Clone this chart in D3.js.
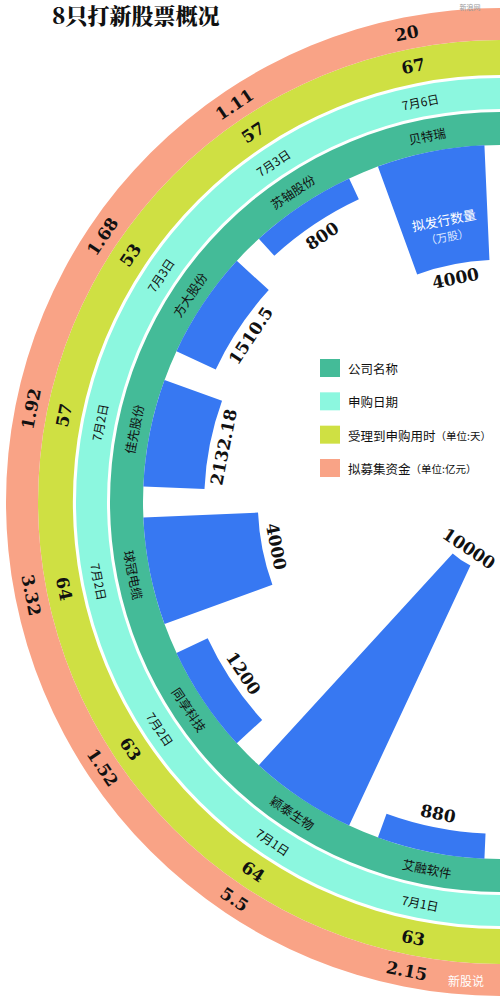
<!DOCTYPE html>
<html><head><meta charset="utf-8">
<script src="https://cdn.jsdelivr.net/npm/d3@7"></script>
<style>body{margin:0;background:#fff}</style></head>
<body><svg id="c" width="500" height="1004"></svg>
<script>
const companies=["贝特瑞","苏轴股份","方大股份","佳先股份","球冠电缆","同享科技","颖泰生物","艾融软件"];
const shares=[4000,800,1510.5,2132.18,4000,1200,10000,880];
const shareLabels=["4000","800","1510.5","2132.18","4000","1200","10000","880"];
const dates=["7月6日","7月3日","7月3日","7月2日","7月2日","7月2日","7月1日","7月1日"];
const days=[67,57,53,57,64,63,64,63];
const funds=["20","1.11","1.68","1.92","3.32","1.52","5.5","2.15"];
const legendItems=["公司名称","申购日期","受理到申购用时（单位:天）","拟募集资金（单位:亿元）"];
const colors={name:"#44bb98",date:"#8cf7df",days:"#cfe043",fund:"#f9a386",bar:"#3778f2"};

const svg=d3.select("#c");
const cx=500,cy=502;
const g=svg.append("g").attr("transform",`translate(${cx},${cy})`);
const rad=Math.PI/180;
const n=companies.length;
const ang=d3.scaleBand().domain(d3.range(n)).range([0,180]);
const bw=ang.bandwidth();
const r=d3.scaleLinear().domain([0,10000]).range([357,70]);
const arc=d3.arc();
function place(a,rr){return [-rr*Math.sin(a*rad),-rr*Math.cos(a*rad)];}
function rotOf(a){return a<=90?-a:180-a;}
const rings=[
 {key:"name",r0:357,r1:390,labels:companies,font:"'Noto Sans CJK SC',sans-serif",size:12.5,weight:400},
 {key:"date",r0:393,r1:424,labels:dates,font:"'Noto Sans CJK SC',sans-serif",size:12,weight:400},
 {key:"days",r0:427,r1:462,labels:days.map(String),font:"'DejaVu Serif',serif",size:17,weight:700},
 {key:"fund",r0:462,r1:494,labels:funds,font:"'DejaVu Serif',serif",size:17,weight:700}
];
rings.forEach(rg=>{
  g.append("path").attr("d",arc({innerRadius:rg.r0,outerRadius:rg.r1,startAngle:0,endAngle:-Math.PI})).attr("fill",colors[rg.key]);
  rg.labels.forEach((t,i)=>{
    const a=ang(i)+bw/2;
    const [x,y]=place(a,(rg.r0+rg.r1)/2);
    g.append("text").attr("transform",`translate(${x},${y}) rotate(${rotOf(a)})`)
     .attr("text-anchor","middle").attr("dominant-baseline","central")
     .attr("font-family",rg.font).attr("font-size",rg.size).attr("font-weight",rg.weight)
     .attr("fill","#111").text(t);
  });
});
// bars
shares.forEach((v,i)=>{
  const pad=2.5;
  g.append("path").attr("d",arc({innerRadius:r(v),outerRadius:357,startAngle:-(ang(i)+pad)*rad,endAngle:-(ang(i)+bw-pad)*rad})).attr("fill",colors.bar);
  const a=ang(i)+bw/2;
  const [x,y]=place(a,r(v)-14);
  g.append("text").attr("transform",`translate(${x},${y}) rotate(${rotOf(a)})`)
   .attr("text-anchor","middle").attr("dominant-baseline","central")
   .attr("font-family","'DejaVu Serif',serif").attr("font-size",17).attr("font-weight",700)
   .attr("fill","#111").text(shareLabels[i]);
});
// label inside first bar
{
  const a=ang(0)+bw/2;
  const [x,y]=place(a,r(shares[0])+40);
  const t=g.append("g").attr("transform",`translate(${x},${y}) rotate(${-a})`);
  t.append("text").attr("text-anchor","middle").attr("y",0).attr("font-family","'Noto Sans CJK SC',sans-serif").attr("font-size",13).attr("fill","#fff").text("拟发行数量");
  t.append("text").attr("text-anchor","middle").attr("y",16).attr("font-family","'Noto Sans CJK SC',sans-serif").attr("font-size",11).attr("fill","#dfe8ff").text("（万股）");
}
// legend
const legY=d3.scalePoint().domain(d3.range(legendItems.length)).range([368,468]);
const lc=[colors.name,colors.date,colors.days,colors.fund];
legendItems.forEach((t,i)=>{
  svg.append("rect").attr("x",320).attr("y",legY(i)-9).attr("width",20).attr("height",18).attr("fill",lc[i]);
  const parts=t.split("（");
  const tx=svg.append("text").attr("x",348).attr("y",legY(i)).attr("dominant-baseline","central")
   .attr("font-family","'Noto Sans CJK SC',sans-serif").attr("font-size",12.5).attr("fill","#111");
  tx.append("tspan").text(parts[0]);
  if(parts[1]) tx.append("tspan").attr("font-size",10.5).text("（"+parts[1]);
});
// title
svg.append("text").attr("x",52).attr("y",24).attr("font-family","'Noto Serif CJK SC','Noto Sans CJK SC',serif").attr("font-weight",900).attr("font-size",22).attr("fill","#111").text("8只打新股票概况");
svg.append("text").attr("x",470).attr("y",10).attr("font-family","'Noto Sans CJK SC',sans-serif").attr("font-size",7).attr("fill","#999").attr("text-anchor","middle").text("新浪网");
svg.append("text").attr("x",484).attr("y",986).attr("font-family","'Noto Sans CJK SC',sans-serif").attr("font-size",12).attr("fill","#fff").attr("text-anchor","end").text("新股说");
</script></body></html>
